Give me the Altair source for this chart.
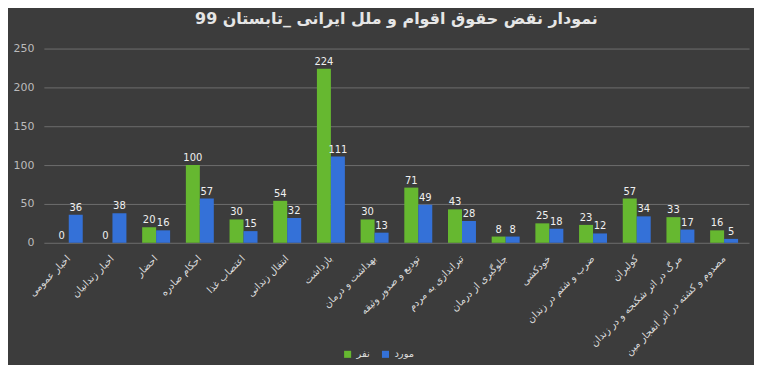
import altair as alt
import pandas as pd

categories = [
    "اخبار عمومی",
    "اخبار زندانیان",
    "احضار",
    "احکام صادره",
    "اعتصاب غذا",
    "انتقال زندانی",
    "بازداشت",
    "بهداشت و درمان",
    "تودیع و صدور وثیقه",
    "تیراندازی به مردم",
    "جلوگیری از درمان",
    "خودکشی",
    "ضرب و شتم در زندان",
    "کولبران",
    "مرگ در اثر شکنجه و در زندان",
    "مصدوم و کشته در اثر انفجار مین",
]
persons = [0, 0, 20, 100, 30, 54, 224, 30, 71, 43, 8, 25, 23, 57, 33, 16]
cases = [36, 38, 16, 57, 15, 32, 111, 13, 49, 28, 8, 18, 12, 34, 17, 5]
series_names = ["نفر", "مورد"]
series_colors = ["#66b830", "#3471d8"]
y_ticks = [0, 50, 100, 150, 200, 250]
title_text = "نمودار نقض حقوق اقوام و ملل ایرانی _تابستان 99"

rows = []
for c, p, k in zip(categories, persons, cases):
    rows.append({"cat": c, "series": series_names[0], "value": p})
    rows.append({"cat": c, "series": series_names[1], "value": k})
df = pd.DataFrame(rows)

FONT = "DejaVu Sans"

x = alt.X(
    "cat:N",
    sort=categories,
    title=None,
    scale=alt.Scale(paddingInner=0.36, paddingOuter=0.25),
    axis=alt.Axis(
        labelAngle=-45,
        labelAlign="right",
        labelBaseline="middle",
        labelColor="#dddddd",
        labelFontSize=10,
        labelFont=FONT,
        ticks=False,
        domain=False,
        labelPadding=14,
        labelLimit=250,
    ),
)
xo = alt.XOffset("series:N", sort=series_names, scale=alt.Scale(paddingInner=0.0))
y = alt.Y(
    "value:Q",
    title=None,
    scale=alt.Scale(domain=[0, 250], nice=False),
    axis=alt.Axis(
        values=y_ticks,
        labelColor="#bbbbbb",
        labelFontSize=11,
        labelFont=FONT,
        gridColor="#6e6e6e",
        gridWidth=1,
        domain=False,
        ticks=False,
        labelPadding=10,
    ),
)
color = alt.Color(
    "series:N",
    sort=series_names,
    scale=alt.Scale(domain=series_names, range=series_colors),
    legend=alt.Legend(
        title=None,
        orient="none",
        direction="horizontal",
        legendX=300,
        legendY=302,
        symbolType="square",
        symbolSize=50,
        labelColor="#dddddd",
        labelFontSize=10,
        labelFont=FONT,
        columnPadding=10,
    ),
)

bars = alt.Chart(df).mark_bar().encode(x=x, xOffset=xo, y=y, color=color)
labels = alt.Chart(df).mark_text(
    dy=-7, color="#f0f0f0", fontSize=10, font=FONT
).encode(x=x, xOffset=xo, y=y, text="value:Q")

chart = (
    (bars + labels)
    .properties(
        width=708,
        height=195,
        background="#3c3c3c",
        title=alt.TitleParams(
            title_text,
            color="#e6e6e6",
            fontSize=16,
            font=FONT,
            fontWeight="bold",
            anchor="middle",
            offset=16,
        ),
        padding={"left": 5, "top": 2, "right": 5, "bottom": 5},
    )
    .configure_view(stroke=None)
)

chart.save("out.html", embed_options={"renderer": "svg", "actions": False})
